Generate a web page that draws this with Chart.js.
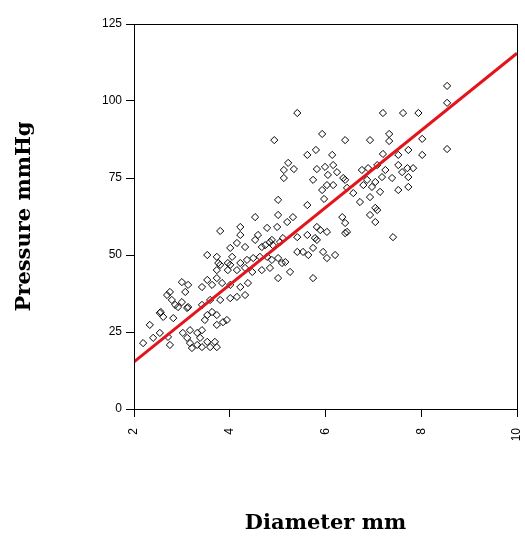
<!DOCTYPE html>
<html>
<head>
<meta charset="utf-8">
<script src="https://cdn.jsdelivr.net/npm/chart.js@4/dist/chart.umd.min.js"></script>
<style>
  html, body { margin: 0; padding: 0; background: #fff; }
  #wrap { width: 525px; height: 555px; }
</style>
</head>
<body>
<div id="wrap"><canvas id="pressure_chart"></canvas></div>
<script>
// diameter (mm) and pressure (mmHg)
var diameter = [
    8.54, 8.54, 8.54, 7.20, 7.62, 7.94, 7.33, 7.33, 6.93, 8.02, 7.73, 8.02, 7.52, 7.20,
    5.41, 4.93, 5.93, 6.41, 5.62, 5.80, 6.14, 5.22, 5.13, 5.34, 5.13, 5.74, 5.82, 5.99,
    6.16, 6.24, 6.37, 6.05, 5.93, 6.03, 6.16, 6.45, 6.41, 6.76, 6.89, 7.08, 7.18, 6.87,
    6.79, 6.97, 7.04, 7.14, 7.25, 7.39, 7.52, 7.60, 7.71, 7.73, 7.83, 7.52, 7.73, 6.58,
    6.72, 6.93, 7.04, 6.93, 7.08, 7.04, 7.41, 6.35, 6.41, 6.45, 5.97, 5.01, 5.62, 5.01,
    4.53, 5.32, 5.20, 4.22, 3.80, 4.99, 5.82, 6.03, 5.62, 5.82, 5.74, 5.95, 5.53, 6.20,
    5.64, 6.41, 6.03, 5.74, 4.22, 4.59, 4.15, 4.32, 4.53, 4.74, 4.90, 5.11, 5.41, 5.78,
    5.41, 3.53, 3.73, 3.76, 3.96, 4.05, 4.22, 4.36, 4.49, 4.63, 4.78, 4.88, 5.01, 5.16,
    5.01, 3.73, 3.96, 4.15, 4.32, 4.47, 4.67, 4.84, 3.00, 3.13, 3.53, 3.73, 3.42, 3.63,
    3.84, 4.01, 4.22, 4.38, 4.32, 4.15, 4.01, 3.80, 3.59, 3.42, 3.13, 2.75, 2.79, 2.86,
    3.00, 3.11, 3.53, 3.63, 3.73, 3.48, 3.86, 3.94, 3.73, 2.61, 2.82, 2.92, 2.33, 2.19,
    2.40, 2.54, 2.71, 2.75, 3.02, 3.11, 3.17, 3.21, 3.32, 3.32, 3.38, 3.42, 3.53, 3.59,
    3.69, 3.73, 3.42, 3.17, 5.89, 4.88, 4.67, 5.09, 5.26, 4.01, 3.80, 4.01, 4.78, 4.84,
    5.05, 2.54, 2.56, 2.69, 3.07
];
var pressure = [
    104.9, 99.4, 84.4, 96.1, 96.1, 96.1, 89.3, 87.0, 87.3, 87.7, 84.1, 82.5, 82.5, 82.8,
    96.1, 87.3, 89.3, 87.3, 82.5, 84.1, 82.5, 79.9, 77.6, 77.9, 75.0, 74.4, 77.9, 78.6,
    79.2, 76.9, 75.0, 76.0, 71.1, 72.7, 72.7, 71.8, 74.4, 77.6, 78.2, 79.2, 75.3, 74.4,
    72.7, 72.1, 73.7, 70.5, 77.6, 75.0, 79.2, 76.9, 78.2, 75.3, 78.2, 71.1, 72.1, 70.1,
    67.2, 68.8, 65.3, 63.0, 64.6, 60.7, 55.8, 62.3, 60.4, 57.5, 68.2, 67.9, 66.2, 63.0,
    62.3, 62.3, 60.7, 59.1, 57.8, 59.1, 59.1, 57.5, 56.5, 54.9, 52.3, 51.0, 51.0, 50.0,
    50.0, 57.1, 49.0, 42.5, 56.5, 56.5, 53.9, 52.6, 54.9, 53.2, 53.2, 55.5, 55.8, 55.5,
    51.0, 50.0, 49.4, 47.4, 47.4, 49.4, 47.4, 48.4, 49.0, 49.4, 49.4, 48.4, 49.0, 47.7,
    42.5, 45.1, 45.1, 45.1, 45.8, 44.5, 45.1, 45.8, 41.2, 40.3, 41.9, 42.5, 39.6, 40.3,
    40.9, 40.3, 39.6, 40.9, 37.0, 36.4, 36.0, 35.4, 35.4, 33.8, 33.1, 38.0, 35.4, 33.8,
    34.7, 32.8, 30.5, 31.5, 30.5, 28.9, 28.2, 28.9, 27.3, 29.9, 29.5, 33.1, 27.3, 21.4,
    23.1, 24.7, 23.4, 20.8, 24.7, 23.1, 21.4, 19.8, 20.8, 24.7, 23.1, 20.1, 21.8, 20.1,
    21.8, 20.1, 25.6, 25.6, 58.1, 54.9, 52.6, 47.4, 44.5, 52.3, 46.8, 46.8, 58.8, 54.2,
    54.2, 31.2, 31.5, 37.0, 38.0
];
// fitted line end points
var fitX = [2, 10];
var fitY = [15.3, 115.5];

var xTicks = [2, 4, 6, 8, 10];
var yTicks = [0, 25, 50, 75, 100, 125];

var points = [];
for (var i = 0; i < diameter.length; i++) {
    points.push({x: diameter[i], y: pressure[i]});
}
var fitPoints = [];
for (var j = 0; j < fitX.length; j++) {
    fitPoints.push({x: fitX[j], y: fitY[j]});
}

// box round the plot area (top and right sides too)
var frameBox = {
    id: 'frameBox',
    afterDraw: function (chart) {
        var a = chart.chartArea;
        var ctx = chart.ctx;
        ctx.save();
        ctx.strokeStyle = '#000';
        ctx.lineWidth = 1;
        ctx.strokeRect(a.left + 0.5, a.top + 0.5, a.right - a.left, a.bottom - a.top);
        ctx.restore();
    }
};

var tickFont = {family: 'Liberation Sans', size: 12};
var titleFont = {family: 'DejaVu Serif', size: 21, weight: 'bold'};

var ctx = document.getElementById('pressure_chart');
var myChart = new Chart(ctx, {
    type: 'scatter',
    data: {
        datasets: [{
            type: 'line',
            data: fitPoints,
            borderColor: '#e3141b',
            borderWidth: 3,
            pointRadius: 0,
            fill: false,
            order: 0
        }, {
            data: points,
            pointStyle: 'rectRot',
            pointRadius: 3.6,
            pointBorderWidth: 1,
            pointBorderColor: '#000',
            pointBackgroundColor: 'rgba(255,255,255,0)',
            borderColor: '#000',
            backgroundColor: 'rgba(255,255,255,0)',
            order: 1
        }]
    },
    options: {
        responsive: true,
        maintainAspectRatio: false,
        animation: false,
        layout: {padding: {left: 0, top: 24, right: 8, bottom: 0}},
        plugins: {
            legend: {display: false},
            tooltip: {enabled: false}
        },
        scales: {
            x: {
                type: 'linear',
                min: 2,
                max: 10,
                afterBuildTicks: function (scale) {
                    scale.ticks = xTicks.map(function (v) { return {value: v}; });
                },
                afterFit: function (scale) {
                    scale.height = 146;
                    scale.paddingLeft = 0;
                    scale.paddingRight = 0;
                },
                ticks: {
                    color: '#000',
                    font: tickFont,
                    minRotation: 90,
                    maxRotation: 90,
                    padding: 11
                },
                grid: {
                    display: true,
                    drawOnChartArea: false,
                    drawTicks: true,
                    tickLength: 8,
                    color: '#000'
                },
                border: {color: '#000', width: 1},
                title: {
                    display: true,
                    text: 'Diameter mm',
                    color: '#000',
                    font: titleFont,
                    padding: {top: 0, bottom: 19}
                }
            },
            y: {
                type: 'linear',
                min: 0,
                max: 125,
                afterBuildTicks: function (scale) {
                    scale.ticks = yTicks.map(function (v) { return {value: v}; });
                },
                afterFit: function (scale) { scale.width = 134; },
                ticks: {
                    color: '#000',
                    font: tickFont,
                    padding: 4
                },
                grid: {
                    display: true,
                    drawOnChartArea: false,
                    drawTicks: true,
                    tickLength: 8,
                    color: '#000'
                },
                border: {color: '#000', width: 1},
                title: {
                    display: true,
                    text: 'Pressure mmHg',
                    color: '#000',
                    font: titleFont,
                    padding: {top: 12, bottom: 0}
                }
            }
        }
    },
    plugins: [frameBox]
});
</script>
</body>
</html>
